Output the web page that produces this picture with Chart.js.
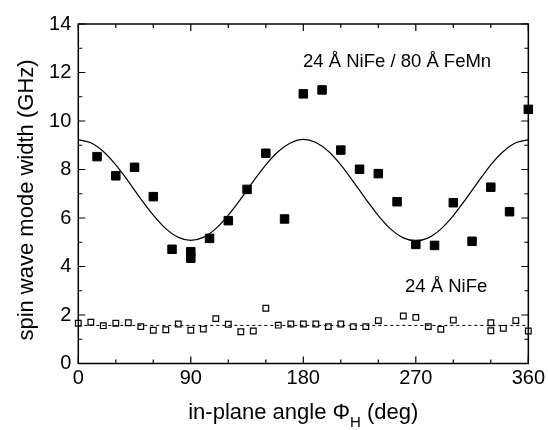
<!DOCTYPE html>
<html>
<head>
<meta charset="utf-8">
<script src="https://cdn.jsdelivr.net/npm/chart.js@4/dist/chart.umd.min.js"></script>
<style>
  html, body { margin: 0; padding: 0; background: #fff; }
  #wrap { width: 548px; height: 430px; }
</style>
</head>
<body>
<div id="wrap"><canvas id="myChart" width="548" height="430"></canvas></div>
<script>
// 24 A NiFe / 80 A FeMn (filled squares)
const bilayerAngles = [15, 30, 45, 60, 75, 90, 90, 105, 120, 135, 150, 165, 180, 195, 210, 225, 240, 255, 270, 285, 300, 315, 330, 345, 360];
const bilayerWidths = [8.53, 7.74, 8.09, 6.88, 4.71, 4.61, 4.34, 5.16, 5.89, 7.18, 8.67, 5.96, 11.12, 11.28, 8.80, 8.01, 7.83, 6.67, 4.91, 4.87, 6.63, 5.04, 7.27, 6.26, 10.48];

// 24 A NiFe alone (open squares)
const singleAngles = [0, 10, 20, 30, 40, 50, 60, 70, 80, 90, 100, 110, 120, 130, 140, 150, 160, 170, 180, 190, 200, 210, 220, 230, 240, 260, 270, 280, 290, 300, 330, 330, 340, 350, 360];
const singleWidths = [1.66, 1.70, 1.56, 1.66, 1.68, 1.52, 1.37, 1.39, 1.63, 1.37, 1.42, 1.85, 1.62, 1.31, 1.34, 2.28, 1.58, 1.63, 1.63, 1.63, 1.52, 1.63, 1.52, 1.52, 1.77, 1.96, 1.90, 1.52, 1.41, 1.79, 1.68, 1.35, 1.45, 1.77, 1.34];

// fit curve (solid)
const fitAngles = [0, 10, 20, 30, 40, 50, 60, 70, 80, 90, 100, 110, 120, 130, 140, 150, 160, 170, 180, 190, 200, 210, 220, 230, 240, 250, 260, 270, 280, 290, 300, 310, 320, 330, 340, 350, 360];
const fitWidths = [9.22, 9.10, 8.74, 8.19, 7.51, 6.79, 6.12, 5.56, 5.20, 5.08, 5.20, 5.56, 6.12, 6.79, 7.51, 8.19, 8.74, 9.10, 9.24, 9.11, 8.75, 8.19, 7.50, 6.78, 6.10, 5.54, 5.18, 5.06, 5.18, 5.54, 6.10, 6.78, 7.50, 8.19, 8.74, 9.10, 9.22];

// dashed average line
const avgAngles = [0, 360];
const avgWidths = [1.57, 1.57];

const xTicks = [0, 90, 180, 270, 360];
const yTicks = [0, 2, 4, 6, 8, 10, 12, 14];

const fontFam = "'Liberation Sans', Arial, Helvetica, sans-serif";

function pts(xs, ys) {
  return xs.map((x, i) => ({ x: x, y: ys[i] }));
}

// frame, inward ticks, annotations and axis titles
const framePlugin = {
  id: 'frame',
  afterDraw(chart) {
    const ctx = chart.ctx;
    const a = chart.chartArea;
    const xs = chart.scales.x;
    const ys = chart.scales.y;
    ctx.save();
    ctx.strokeStyle = '#000';
    ctx.lineWidth = 1.5;
    ctx.strokeRect(a.left, a.top, a.right - a.left, a.bottom - a.top);

    ctx.lineWidth = 1.2;
    ctx.beginPath();
    for (let v = 0; v <= 360; v += 30) {
      const px = xs.getPixelForValue(v);
      const len = v % 90 === 0 ? 7 : 4;
      ctx.moveTo(px, a.bottom); ctx.lineTo(px, a.bottom - len);
      ctx.moveTo(px, a.top); ctx.lineTo(px, a.top + len);
    }
    for (let v = 0; v <= 14; v += 1) {
      const py = ys.getPixelForValue(v);
      const len = v % 2 === 0 ? 7 : 4;
      ctx.moveTo(a.left, py); ctx.lineTo(a.left + len, py);
      ctx.moveTo(a.right, py); ctx.lineTo(a.right - len, py);
    }
    ctx.stroke();

    // annotations
    ctx.fillStyle = '#000';
    ctx.font = '18.5px ' + fontFam;
    ctx.textBaseline = 'alphabetic';
    ctx.textAlign = 'left';
    ctx.fillText('24 Å NiFe / 80 Å FeMn', 303, 66.5);
    ctx.fillText('24 Å NiFe', 405, 292);

    // x axis title with subscript H
    const main = 'in-plane angle Φ';
    const sub = 'H';
    const tail = ' (deg)';
    ctx.font = '22px ' + fontFam;
    const w1 = ctx.measureText(main).width;
    const w3 = ctx.measureText(tail).width;
    ctx.font = '15px ' + fontFam;
    const w2 = ctx.measureText(sub).width;
    const cx = (a.left + a.right) / 2;
    const x0 = cx - (w1 + w2 + w3) / 2;
    ctx.font = '22px ' + fontFam;
    ctx.fillText(main, x0, 419);
    ctx.font = '15px ' + fontFam;
    ctx.fillText(sub, x0 + w1, 427);
    ctx.font = '22px ' + fontFam;
    ctx.fillText(tail, x0 + w1 + w2, 419);

    // y axis title
    ctx.translate(27, 200);
    ctx.rotate(-Math.PI / 2);
    ctx.textAlign = 'center';
    ctx.textBaseline = 'middle';
    ctx.fillText('spin wave mode width (GHz)', 0, 0);
    ctx.restore();
  }
};

const ctx = document.getElementById('myChart');

new Chart(ctx, {
  type: 'scatter',
  data: {
    datasets: [
      {
        label: 'fit',
        data: pts(fitAngles, fitWidths),
        showLine: true,
        borderColor: '#000',
        borderWidth: 1.2,
        pointRadius: 0,
        cubicInterpolationMode: 'monotone',
        fill: false
      },
      {
        label: 'average',
        data: pts(avgAngles, avgWidths),
        showLine: true,
        borderColor: '#000',
        borderWidth: 1,
        borderDash: [3, 3],
        pointRadius: 0,
        fill: false
      },
      {
        label: '24 Å NiFe',
        data: pts(singleAngles, singleWidths),
        pointStyle: 'rect',
        pointRadius: 4,
        borderWidth: 1.2,
        borderColor: '#000',
        backgroundColor: '#fff'
      },
      {
        label: '24 Å NiFe / 80 Å FeMn',
        data: pts(bilayerAngles, bilayerWidths),
        pointStyle: 'rect',
        pointRadius: 6,
        borderWidth: 1,
        borderColor: '#000',
        backgroundColor: '#000'
      }
    ]
  },
  options: {
    responsive: false,
    animation: false,
    clip: false,
    layout: { padding: { left: 0, right: 19, top: 24, bottom: 0 } },
    plugins: {
      legend: { display: false },
      tooltip: { enabled: false }
    },
    scales: {
      x: {
        type: 'linear',
        min: 0,
        max: 360,
        afterBuildTicks: (s) => { s.ticks = xTicks.map(v => ({ value: v })); },
        afterFit: (s) => { s.height = 66.5; },
        grid: { display: false, drawTicks: false },
        border: { display: false },
        ticks: { color: '#000', padding: 3, font: { size: 20, family: fontFam } }
      },
      y: {
        type: 'linear',
        min: 0,
        max: 14,
        afterBuildTicks: (s) => { s.ticks = yTicks.map(v => ({ value: v })); },
        afterFit: (s) => { s.width = 78.3; },
        grid: { display: false, drawTicks: false },
        border: { display: false },
        ticks: { color: '#000', padding: 7, font: { size: 20, family: fontFam } }
      }
    }
  },
  plugins: [framePlugin]
});
</script>
</body>
</html>
